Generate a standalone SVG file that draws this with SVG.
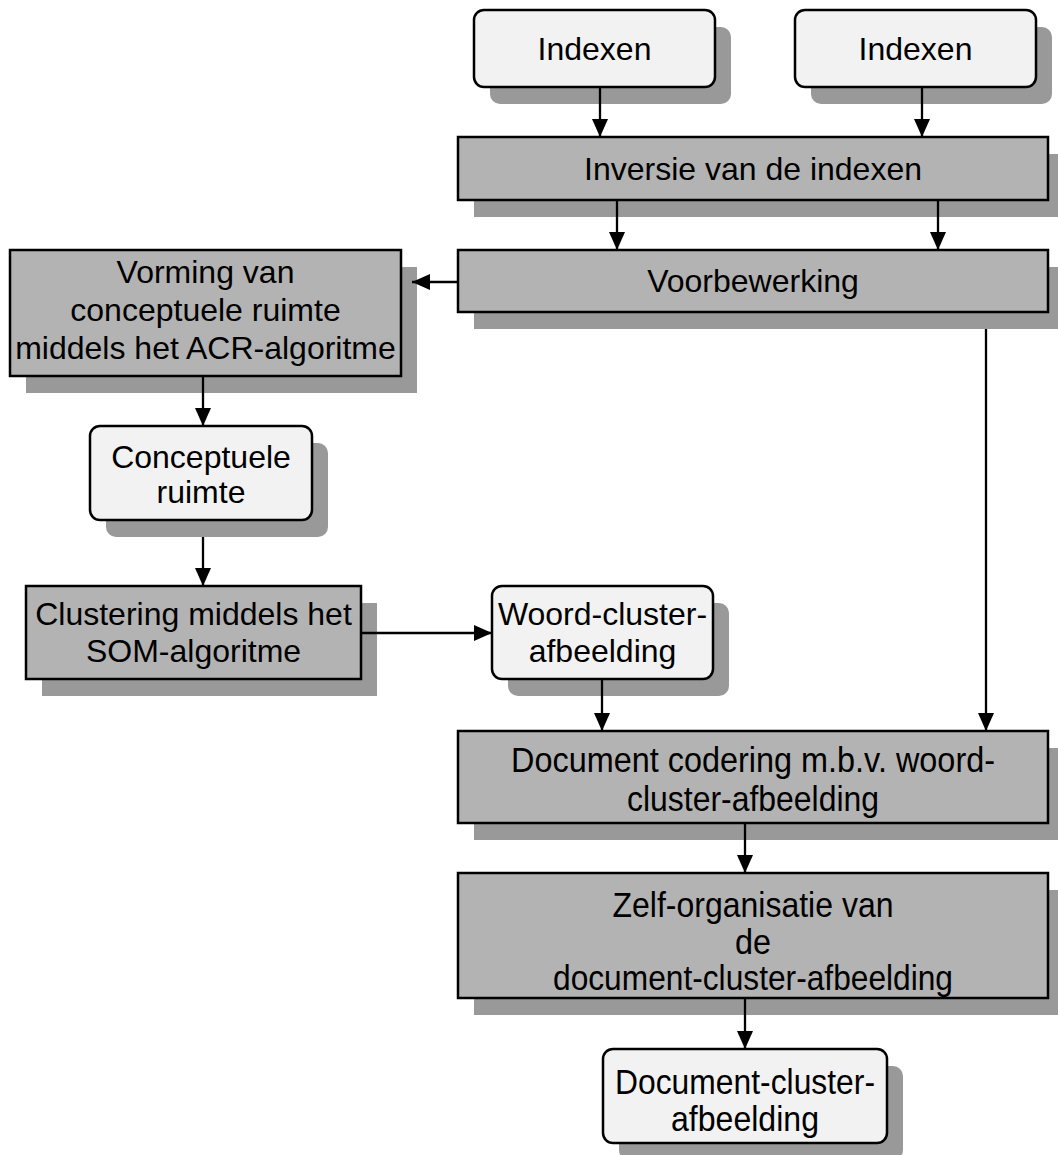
<svg xmlns="http://www.w3.org/2000/svg" width="1058" height="1155" viewBox="0 0 1058 1155">
  <style>
    .shadow { fill: #999999; stroke: none; }
    .proc { fill: #b3b3b3; stroke: #000000; stroke-width: 2.5; }
    .data { fill: #f2f2f2; stroke: #000000; stroke-width: 2.5; }
    .label { font-family: "Liberation Sans", Arial, sans-serif; font-size: 32px; fill: #000000; text-anchor: middle; }
    .tall { font-size: 35px; }
    .wire { fill: none; stroke: #000000; stroke-width: 2.3; }
  </style>
  <defs>
    <marker id="arrow" viewBox="0 0 18 16" refX="18" refY="8" markerWidth="18" markerHeight="16" markerUnits="userSpaceOnUse" orient="auto">
      <path d="M0,0 L18,8 L0,16 Z" fill="#000000"/>
    </marker>
  </defs>
  <rect width="1058" height="1155" fill="#ffffff"/>

  <!-- input: first index -->
  <g id="indexen-1">
    <rect class="shadow" x="490" y="27" width="241" height="77" rx="10"/>
    <rect class="data" x="474" y="10" width="241" height="77" rx="10"/>
    <text class="label" x="594.5" y="60">Indexen</text>
  </g>

  <!-- input: second index -->
  <g id="indexen-2">
    <rect class="shadow" x="811" y="27" width="241" height="77" rx="10"/>
    <rect class="data" x="795" y="10" width="241" height="77" rx="10"/>
    <text class="label" x="915.5" y="60">Indexen</text>
  </g>

  <g id="inversie">
    <rect class="shadow" x="474" y="154" width="590" height="63"/>
    <rect class="proc" x="458" y="137" width="590" height="63"/>
    <text class="label" x="753" y="180">Inversie van de indexen</text>
  </g>

  <g id="voorbewerking">
    <rect class="shadow" x="474" y="267" width="590" height="62"/>
    <rect class="proc" x="458" y="250" width="590" height="62"/>
    <text class="label" x="753" y="292">Voorbewerking</text>
  </g>

  <g id="vorming">
    <rect class="shadow" x="26" y="267" width="391" height="126"/>
    <rect class="proc" x="10" y="250" width="391" height="126"/>
    <text class="label" x="205.5" y="283">Vorming van</text>
    <text class="label" x="205.5" y="321">conceptuele ruimte</text>
    <text class="label" x="205.5" y="359">middels het ACR-algoritme</text>
  </g>

  <g id="conceptuele-ruimte">
    <rect class="shadow" x="106" y="443" width="222" height="94" rx="10"/>
    <rect class="data" x="90" y="426" width="222" height="94" rx="10"/>
    <text class="label" x="201" y="468">Conceptuele</text>
    <text class="label" x="201" y="503">ruimte</text>
  </g>

  <g id="clustering">
    <rect class="shadow" x="42" y="603" width="335" height="93"/>
    <rect class="proc" x="26" y="586" width="335" height="93"/>
    <text class="label" x="193.5" y="625">Clustering middels het</text>
    <text class="label" x="193.5" y="662">SOM-algoritme</text>
  </g>

  <g id="woord-cluster">
    <rect class="shadow" x="508" y="603" width="221" height="93" rx="10"/>
    <rect class="data" x="492" y="586" width="221" height="93" rx="10"/>
    <text class="label" x="602.5" y="625">Woord-cluster-</text>
    <text class="label" x="602.5" y="662">afbeelding</text>
  </g>

  <!-- lower boxes use a taller, narrower setting of the same face -->
  <g id="document-codering">
    <rect class="shadow" x="474" y="748" width="590" height="92"/>
    <rect class="proc" x="458" y="731" width="590" height="92"/>
    <text class="label tall" x="753" y="772" textLength="484" lengthAdjust="spacingAndGlyphs">Document codering m.b.v. woord-</text>
    <text class="label tall" x="753" y="811" textLength="252" lengthAdjust="spacingAndGlyphs">cluster-afbeelding</text>
  </g>

  <g id="zelf-organisatie">
    <rect class="shadow" x="474" y="890" width="590" height="125"/>
    <rect class="proc" x="458" y="873" width="590" height="125"/>
    <text class="label tall" x="753" y="917" textLength="281" lengthAdjust="spacingAndGlyphs">Zelf-organisatie van</text>
    <text class="label tall" x="753" y="954" textLength="36" lengthAdjust="spacingAndGlyphs">de</text>
    <text class="label tall" x="753" y="990" textLength="400" lengthAdjust="spacingAndGlyphs">document-cluster-afbeelding</text>
  </g>

  <g id="document-cluster">
    <rect class="shadow" x="619" y="1066" width="284" height="94" rx="10"/>
    <rect class="data" x="603" y="1049" width="284" height="94" rx="10"/>
    <text class="label tall" x="745" y="1094" textLength="260" lengthAdjust="spacingAndGlyphs">Document-cluster-</text>
    <text class="label tall" x="745" y="1131" textLength="148" lengthAdjust="spacingAndGlyphs">afbeelding</text>
  </g>

  <!-- flow lines -->
  <g id="connectors">
    <line class="wire" x1="600" y1="87" x2="600" y2="137" marker-end="url(#arrow)"/>
    <line class="wire" x1="922" y1="87" x2="922" y2="137" marker-end="url(#arrow)"/>
    <line class="wire" x1="617" y1="200" x2="617" y2="250" marker-end="url(#arrow)"/>
    <line class="wire" x1="938" y1="200" x2="938" y2="250" marker-end="url(#arrow)"/>
    <line class="wire" x1="458" y1="282" x2="412" y2="282" marker-end="url(#arrow)"/>
    <line class="wire" x1="986" y1="329" x2="986" y2="731" marker-end="url(#arrow)"/>
    <line class="wire" x1="203" y1="376" x2="203" y2="426" marker-end="url(#arrow)"/>
    <line class="wire" x1="203" y1="537" x2="203" y2="586" marker-end="url(#arrow)"/>
    <line class="wire" x1="361" y1="633" x2="492" y2="633" marker-end="url(#arrow)"/>
    <line class="wire" x1="602" y1="679" x2="602" y2="731" marker-end="url(#arrow)"/>
    <line class="wire" x1="745" y1="823" x2="745" y2="873" marker-end="url(#arrow)"/>
    <line class="wire" x1="745" y1="998" x2="745" y2="1049" marker-end="url(#arrow)"/>
  </g>
</svg>
